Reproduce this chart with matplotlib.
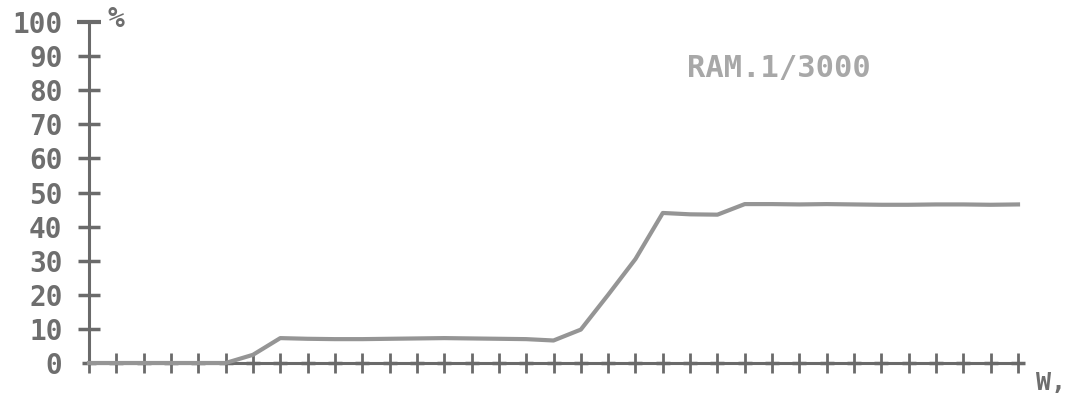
import matplotlib
matplotlib.use("Agg")
import matplotlib.pyplot as plt

# data: x is tick index along the bottom axis, y in %
x_idx = [0, 1, 2, 3, 4, 5, 6, 7, 8, 9, 10, 11, 12, 13, 14, 15, 16, 17,
         18, 19, 20, 21, 22, 23, 24, 25, 26, 27, 28, 29, 30, 31, 32, 33, 34]
pct = [0, 0, 0, 0, 0, 0, 2.4, 7.3, 7.1, 7.0, 7.0, 7.1, 7.2, 7.3, 7.2, 7.1, 7.0, 6.6,
       9.8, 20.0, 30.5, 44.0, 43.6, 43.5, 46.6, 46.6, 46.5, 46.6, 46.5, 46.4, 46.4,
       46.5, 46.5, 46.4, 46.5]
y_ticks = list(range(0, 101, 10))
y_labels = [str(v) for v in y_ticks]
n_xticks = 35

AXIS = "#6a6a6a"; LINE = "#959595"; TXT = "#6e6e6e"; LIGHT = "#a8a8a8"
FONT = "DejaVu Sans Mono"

W, H = 1071, 398
fig = plt.figure(figsize=(W / 100, H / 100), dpi=100)
fig.patch.set_facecolor("white")
# plot area in pixels: x 89..1018, y(0)=363, y(100)=22
ax = fig.add_axes([89 / W, (H - 363) / H, (1018 - 89) / W, (363 - 22) / H])
ax.set_xlim(0, n_xticks - 1)
ax.set_ylim(0, 100)
for s in ax.spines.values():
    s.set_visible(False)
ax.set_xticks([])
ax.set_yticks(y_ticks)
ax.set_yticklabels(y_labels, fontfamily=FONT, fontweight="bold", fontsize=20, color=TXT)
ax.tick_params(axis="y", length=0, pad=19)

# axes drawn as plotter lines with cross ticks
ax.plot([0, n_xticks - 1], [0, 0], color=AXIS, lw=2.2, clip_on=False, zorder=2)
ax.plot([0, 0], [0, 100], color=AXIS, lw=2.2, clip_on=False, zorder=2)
ax.plot(range(n_xticks), [0] * n_xticks, ls="none", marker="|", ms=15, mew=2,
        color=AXIS, clip_on=False, zorder=2)
ax.plot(range(n_xticks), [0] * n_xticks, ls="none", marker="_", ms=10, mew=2.5,
        color=AXIS, clip_on=False, zorder=2)
ax.plot([0] * 9, y_ticks[1:-1], ls="none", marker="_", ms=16, mew=2.5,
        color=AXIS, clip_on=False, zorder=2)
ax.plot([0] * 9, y_ticks[1:-1], ls="none", marker="|", ms=7, mew=2,
        color=AXIS, clip_on=False, zorder=2)
ax.plot([0], [100], ls="none", marker="_", ms=17, mew=3, color=AXIS, clip_on=False)

# data line
ax.plot(x_idx, pct, color=LINE, lw=3, solid_joinstyle="round", clip_on=False, zorder=3)

ax.text(0.68, 100.8, "%", fontfamily=FONT, fontweight="bold", fontsize=20, color=TXT,
        va="center", ha="left")
ax.text(21.9, 86.5, "RAM.1/3000", fontfamily=FONT, fontweight="bold", fontsize=22,
        color=LIGHT, va="center", ha="left")
ax.text(34.65, -6.0, "W,", fontfamily=FONT, fontweight="bold", fontsize=18, color=TXT,
        va="center", ha="left")

fig.savefig("out.png", dpi=100, facecolor="white")
